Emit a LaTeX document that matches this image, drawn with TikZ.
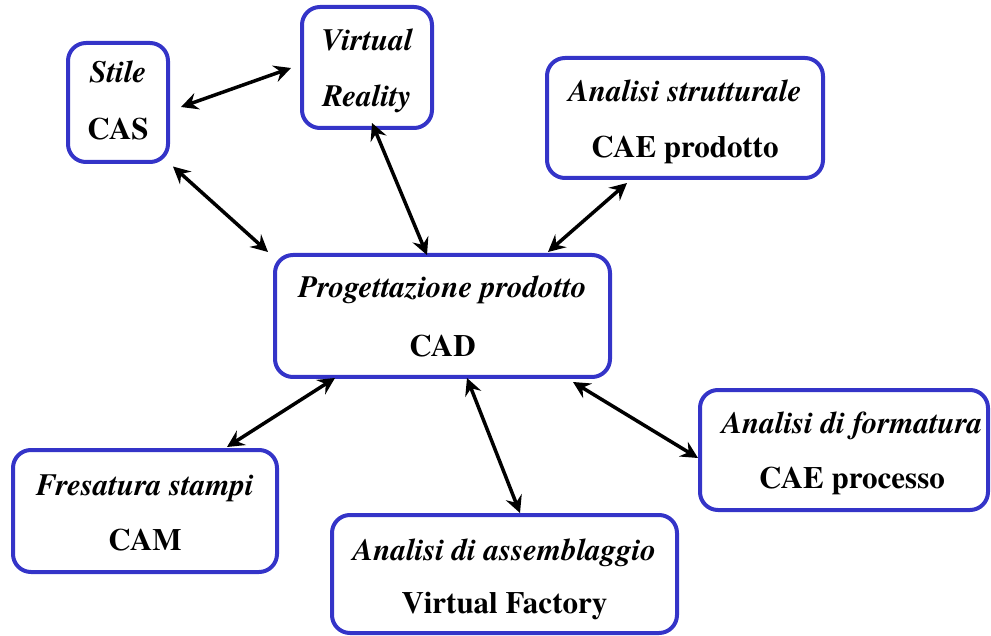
\documentclass[tikz,border=0pt]{standalone}
\usepackage{fontspec}
\newfontfamily\timesfont{texgyretermes}[Extension=.otf, UprightFont=*-regular, BoldFont=*-bold, ItalicFont=*-italic, BoldItalicFont=*-bolditalic]
\usetikzlibrary{arrows.meta}
\definecolor{boxblue}{RGB}{52,52,200}
\begin{document}
\begin{tikzpicture}[x=1pt,y=-1pt,
  box/.style={draw=boxblue, line width=4pt, rounded corners=18pt, inner sep=0pt, outer sep=0pt},
  lbl/.style={anchor=base, inner sep=0pt},
  it/.style={lbl, font=\timesfont\fontsize{31}{37}\selectfont\bfseries\itshape},
  bf/.style={lbl, font=\timesfont\fontsize{31}{37}\selectfont\bfseries},
  arr/.style={line width=3.5pt, {Stealth[length=17pt,width=17pt,inset=6pt]}-{Stealth[length=17pt,width=17pt,inset=6pt]}}]
\useasboundingbox (0,0) rectangle (991,636);
% boxes
\node[box, minimum width=100pt, minimum height=119pt] (cas) at (118,102.5) {};
\node[box, minimum width=130pt, minimum height=121pt] (vr) at (367,67.5) {};
\node[box, minimum width=276pt, minimum height=120pt] (str) at (685,118) {};
\node[box, minimum width=335pt, minimum height=122pt] (cad) at (442.5,316) {};
\node[box, minimum width=264pt, minimum height=122pt] (fres) at (145,511) {};
\node[box, minimum width=345pt, minimum height=118pt] (asm) at (504.5,574) {};
\node[box, minimum width=288pt, minimum height=120pt] (form) at (844,450) {};
% texts
\node[it] at (118,83) {Stile};
\node[bf] at (118,140) {CAS};
\node[it] at (367,51) {Virtual};
\node[it] at (367,107) {Reality};
\node[it] at (685,102) {Analisi strutturale};
\node[bf] at (685,158) {CAE prodotto};
\node[it] at (442.5,298) {Progettazione prodotto};
\node[bf] at (442.5,356) {CAD};
\node[it] at (145,495) {Fresatura stampi};
\node[bf] at (145,550) {CAM};
\node[it] at (504.5,560) {Analisi di assemblaggio};
\node[bf] at (504.5,613) {Virtual Factory};
\node[it] at (852,433) {Analisi di formatura};
\node[bf] at (852,488) {CAE processo};
% connectors
\draw[arr] ([shift={(13,4.5)}]cas.east) -- ([shift={(-11,0.5)}]vr.west);
\draw[arr] ([shift={(5,4.5)}]cas.south east) -- ([shift={(-7,-3)}]cad.north west);
\draw[arr] ([shift={(5,-5)}]vr.south) -- ([shift={(-15.5,0)}]cad.north);
\draw[arr] ([shift={(-58,5)}]str.south) -- ([shift={(-62,-3)}]cad.north east);
\draw[arr] ([shift={(60,1)}]cad.south west) -- ([shift={(82,-3)}]fres.north);
\draw[arr] ([shift={(24.5,1)}]cad.south) -- ([shift={(15.5,-2)}]asm.north);
\draw[arr] ([shift={(-37,5)}]cad.south east) -- ([shift={(-2,8)}]form.west);
\end{tikzpicture}
\end{document}
